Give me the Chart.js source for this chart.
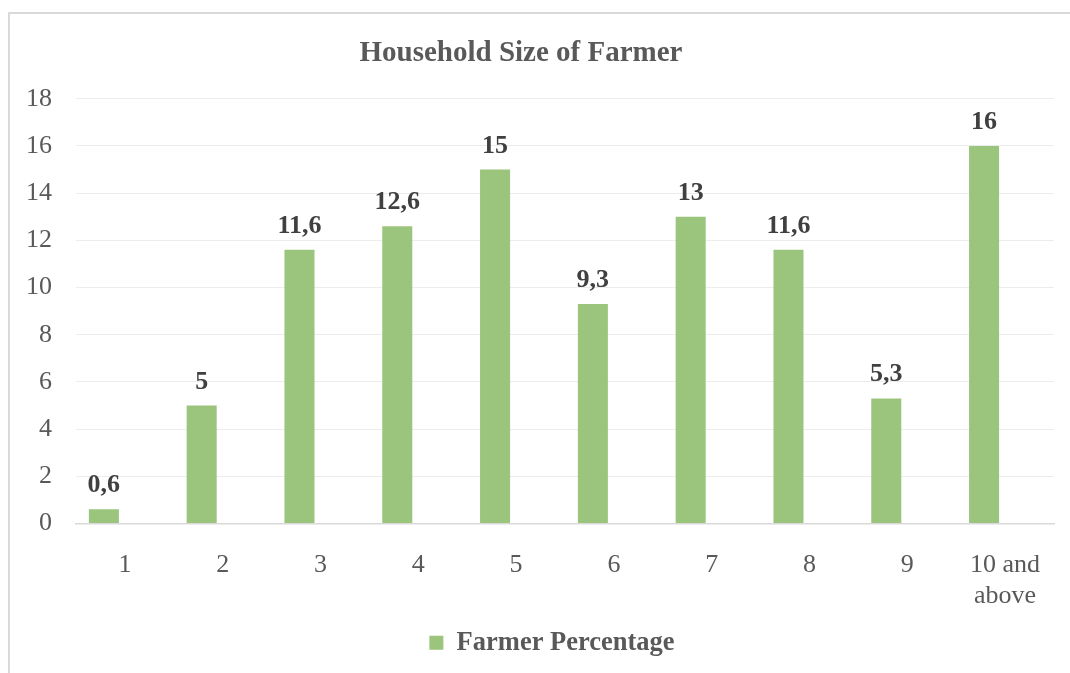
<!DOCTYPE html>
<html>
<head>
<meta charset="utf-8">
<title>Household Size of Farmer</title>
<script src="https://cdn.jsdelivr.net/npm/chart.js@4"></script>
<style>
  html, body { margin: 0; padding: 0; background: #fff; overflow: hidden; }
  #frame {
    position: absolute; left: 8px; top: 12px;
    width: 1100px; height: 700px;
    border: 2px solid #d9d9d9;
  }
  #wrapper { position: absolute; left: 0; top: 0; width: 1070px; height: 673px; }
</style>
</head>
<body>
<div id="frame"></div>
<div id="wrapper"><canvas id="chart"></canvas></div>
<script>
// household size groups and share of farmers (%)
var householdSizes = ['1', '2', '3', '4', '5', '6', '7', '8', '9', ['10 and', 'above']];
var farmerPercentage = [0.6, 5, 11.6, 12.6, 15, 9.3, 13, 11.6, 5.3, 16];
var emptySeries = [null, null, null, null, null, null, null, null, null, null];
var yTicks = [0, 2, 4, 6, 8, 10, 12, 14, 16, 18];

var barGreen = 'rgb(155, 196, 124)';
var textGray = '#595959';
var serif = "'Liberation Serif', 'Times New Roman', serif";

Chart.defaults.font.family = serif;
Chart.defaults.color = textGray;

// value labels above each bar, decimal comma
var barValues = {
  id: 'barValues',
  afterDatasetsDraw: function(chart) {
    var ctx = chart.ctx;
    var meta = chart.getDatasetMeta(0);
    ctx.save();
    ctx.font = 'bold 26px ' + serif;
    ctx.fillStyle = '#404040';
    ctx.textAlign = 'center';
    ctx.textBaseline = 'alphabetic';
    meta.data.forEach(function(bar, i) {
      var v = chart.data.datasets[0].data[i];
      ctx.fillText(String(v).replace('.', ','), bar.x, bar.y - 17);
    });
    ctx.restore();
  }
};

// small horizontal nudges for title and legend
var nudge = {
  id: 'nudge',
  afterLayout: function(chart) {
    chart.legend.left += 25;
    chart.legend.right += 25;
    chart.titleBlock.left -= 6;
    chart.titleBlock.right -= 6;
  }
};

new Chart(document.getElementById('chart'), {
  type: 'bar',
  data: {
    labels: householdSizes,
    datasets: [{
      label: 'Farmer Percentage',
      data: farmerPercentage,
      backgroundColor: barGreen,
      borderWidth: 0,
      categoryPercentage: 0.86,
      barPercentage: 0.714
    }, {
      label: '',
      data: emptySeries,
      backgroundColor: barGreen,
      categoryPercentage: 0.86,
      barPercentage: 0.714
    }]
  },
  options: {
    responsive: true,
    maintainAspectRatio: false,
    animation: false,
    layout: { padding: { left: 0, right: 16, top: 0, bottom: 7 } },
    plugins: {
      title: {
        display: true,
        text: 'Household Size of Farmer',
        color: textGray,
        font: { size: 29, weight: 'bold' },
        padding: { top: 36, bottom: 28 }
      },
      legend: {
        position: 'bottom',
        labels: {
          boxWidth: 14,
          boxHeight: 14,
          color: textGray,
          font: { size: 26.5, weight: 'bold' },
          filter: function(item) { return item.datasetIndex === 0; }
        }
      },
      tooltip: { enabled: false }
    },
    scales: {
      x: {
        grid: { display: false },
        border: { display: true, color: '#d9d9d9', width: 1.5 },
        ticks: {
          color: textGray,
          font: { size: 26 },
          padding: 18,
          maxRotation: 0,
          autoSkip: false
        },
        afterFit: function(scale) { scale.height = 96; }
      },
      y: {
        min: 0,
        max: 18,
        grid: { color: '#ececec', lineWidth: 1, drawTicks: false },
        border: { display: false },
        afterBuildTicks: function(scale) {
          scale.ticks = yTicks.map(function(v) { return { value: v }; });
        },
        ticks: {
          color: textGray,
          font: { size: 26 },
          padding: 24
        },
        afterFit: function(scale) { scale.width = 76; }
      }
    }
  },
  plugins: [barValues, nudge]
});
</script>
</body>
</html>
